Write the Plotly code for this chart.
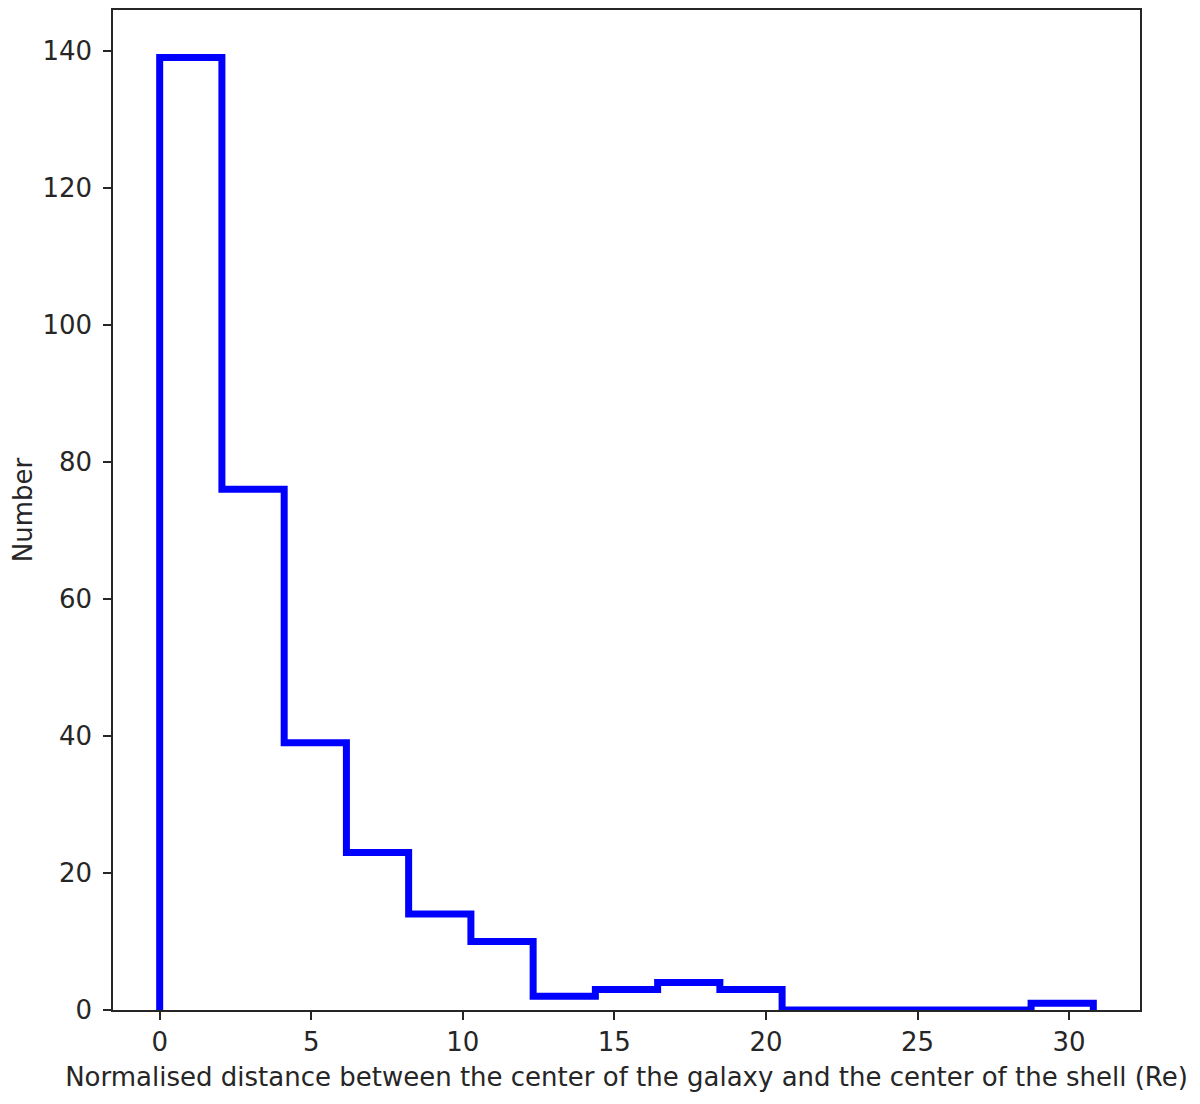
import plotly.graph_objects as go

# histogram of normalised shell distances (15 bins)
bin_edges = [0.0, 2.053, 4.107, 6.16, 8.213, 10.267, 12.32, 14.373, 16.427,
             18.48, 20.533, 22.587, 24.64, 26.693, 28.747, 30.8]
counts = [139, 76, 39, 23, 14, 10, 2, 3, 4, 3, 0, 0, 0, 0, 1]
x_ticks = [0, 5, 10, 15, 20, 25, 30]
y_ticks = [0, 20, 40, 60, 80, 100, 120, 140]

# step outline like matplotlib histtype="step"
step_x = [bin_edges[0]] + bin_edges + [bin_edges[-1]]
step_y = [0] + counts + [counts[-1], 0]

fig = go.Figure(
    go.Scatter(
        x=step_x,
        y=step_y,
        mode="lines",
        line=dict(color="#0000ff", width=7, shape="hv"),
        hoverinfo="skip",
    )
)

font = dict(family="DejaVu Sans", size=26, color="#262626")
axis_common = dict(
    showgrid=False,
    zeroline=False,
    showline=True,
    linecolor="#262626",
    linewidth=1.5,
    mirror=True,
    ticks="outside",
    ticklen=8,
    tickwidth=1.5,
    tickcolor="#262626",
    tickfont=font,
)

# the page body adds an 8px margin, so the figure is sized 8px smaller
fig.update_layout(
    width=1192,
    height=1096,
    margin=dict(l=104, r=60, t=0, b=94),
    plot_bgcolor="white",
    paper_bgcolor="white",
    showlegend=False,
    font=font,
    xaxis=dict(
        range=[-1.54, 32.34],
        tickvals=x_ticks,
        ticklabelstandoff=0,
        title=dict(text="Normalised distance between the center of the galaxy and the center of the shell (Re)",
                   font=font, standoff=12),
        **axis_common,
    ),
    yaxis=dict(
        range=[0, 145.95],
        tickvals=y_ticks,
        ticklabelstandoff=6,
        title=dict(text="Number", font=font, standoff=16),
        **axis_common,
    ),
)

fig.write_html("out.html")
